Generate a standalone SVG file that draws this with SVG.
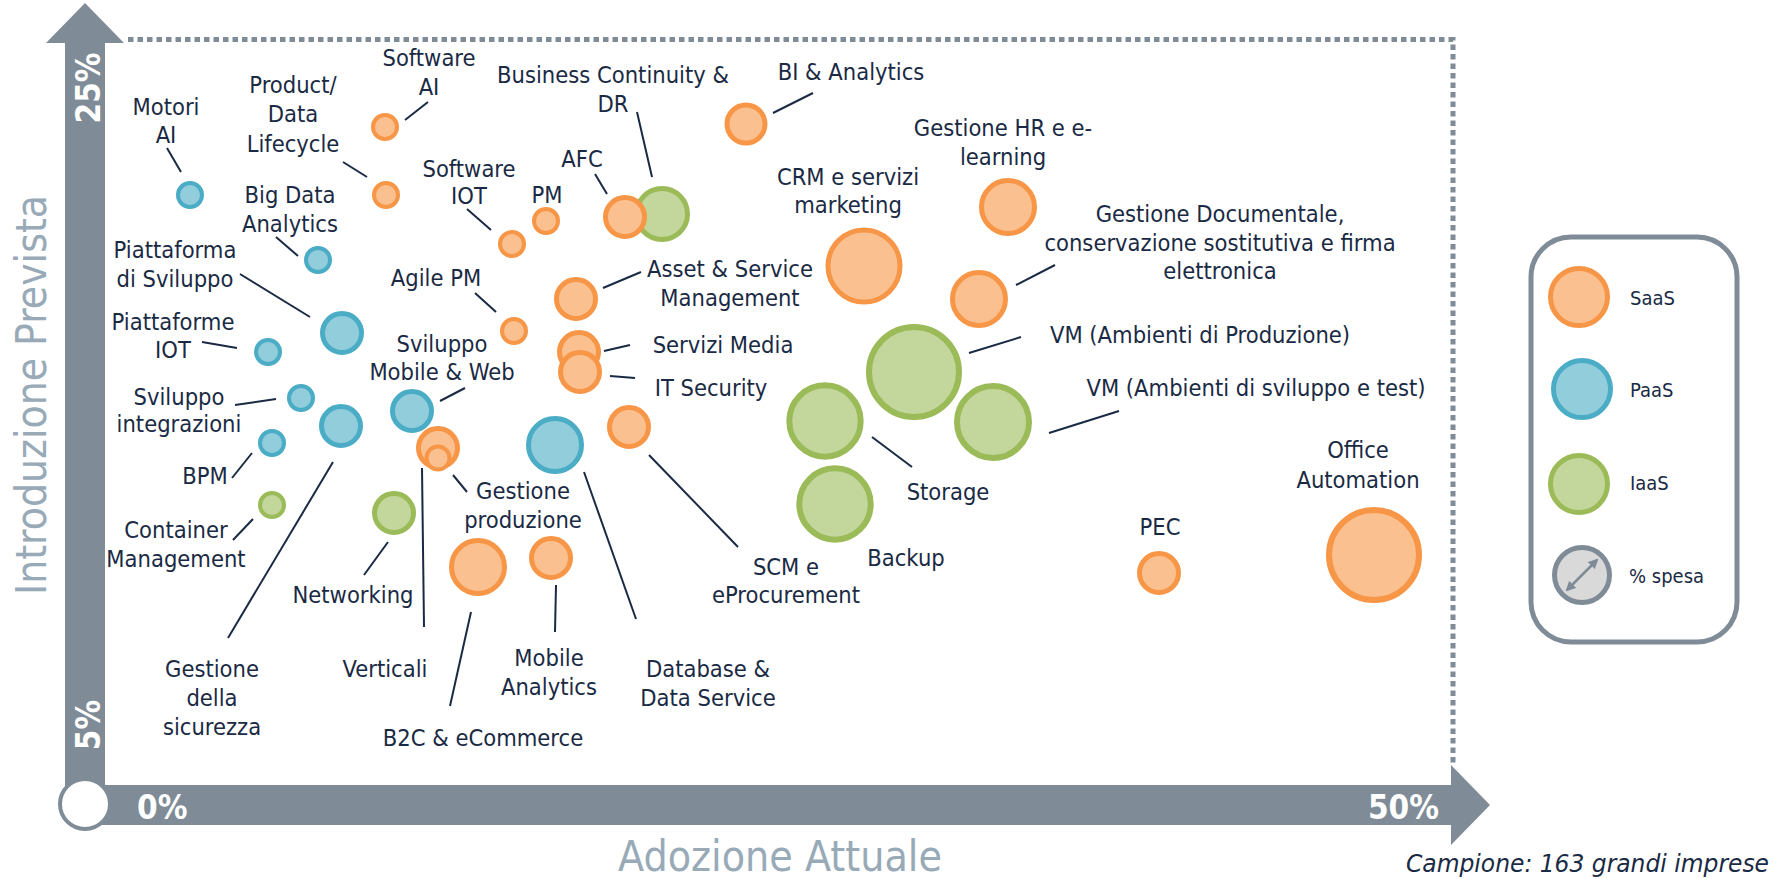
<svg xmlns="http://www.w3.org/2000/svg" width="1784" height="879" viewBox="0 0 1784 879">
<style>
.t{font-family:"DejaVu Sans Condensed","Liberation Sans",sans-serif;font-size:23.5px;fill:#1a2a44;text-anchor:middle}
.lg{font-family:"DejaVu Sans Condensed","Liberation Sans",sans-serif;font-size:20px;fill:#1a2a44}
.ax{font-family:"DejaVu Sans Condensed","Liberation Sans",sans-serif;font-size:33px;font-weight:bold;fill:#ffffff}
.ttl{font-family:"DejaVu Sans Condensed","Liberation Sans",sans-serif;font-size:42px;fill:#98aab7}
.saas{fill:#fac090;stroke:#f79646}
.paas{fill:#92cddc;stroke:#4bacc6}
.iaas{fill:#c3d69b;stroke:#9bbb59}
.s{stroke-width:4}
.m{stroke-width:5}
.l{stroke-width:6}
.conn line{stroke:#1a2a44;stroke-width:2}
</style>
<defs>
<marker id="ah" viewBox="0 0 10 10" refX="8" refY="5" markerWidth="4" markerHeight="4" orient="auto-start-reverse"><path d="M0,0 L10,5 L0,10 z" fill="#7f8c97"/></marker>
</defs>

<g id="axes">
<path d="M128,39.5 H1453 V765" fill="none" stroke="#7f8c97" stroke-width="5" stroke-dasharray="5.5 4"/>
<rect x="65" y="42" width="40" height="762" fill="#7f8c97"/>
<polygon points="85,3 124,43 46,43" fill="#7f8c97"/>
<rect x="85" y="785" width="1367" height="40" fill="#7f8c97"/>
<polygon points="1451,765 1490,805 1451,845" fill="#7f8c97"/>
<circle cx="85" cy="804" r="25" fill="#ffffff" stroke="#7f8c97" stroke-width="4"/>
<text class="ax" x="137" y="819">0%</text>
<text class="ax" x="1439" y="819" text-anchor="end">50%</text>
<text class="ax" transform="translate(100,88) rotate(-90)" text-anchor="middle">25%</text>
<text class="ax" transform="translate(100,725) rotate(-90)" text-anchor="middle">5%</text>
<text class="ttl" transform="translate(46,395) rotate(-90)" text-anchor="middle" textLength="400" lengthAdjust="spacingAndGlyphs">Introduzione Prevista</text>
<text class="ttl" x="618" y="871" textLength="324" lengthAdjust="spacingAndGlyphs">Adozione Attuale</text>
</g>

<g id="connectors" class="conn">
<line x1="167" y1="148" x2="181" y2="172"/>
<line x1="428" y1="102" x2="405" y2="120"/>
<line x1="343" y1="162" x2="367" y2="177"/>
<line x1="276" y1="237" x2="298" y2="256"/>
<line x1="467" y1="209" x2="491" y2="230"/>
<line x1="240" y1="274" x2="310" y2="317"/>
<line x1="202" y1="342" x2="237" y2="348"/>
<line x1="475" y1="293" x2="496" y2="312"/>
<line x1="465" y1="388" x2="440" y2="401"/>
<line x1="235" y1="405" x2="276" y2="399"/>
<line x1="595" y1="174" x2="607" y2="194"/>
<line x1="637" y1="112" x2="652" y2="177"/>
<line x1="813" y1="93" x2="773" y2="113"/>
<line x1="641" y1="272" x2="603" y2="288"/>
<line x1="630" y1="345" x2="604" y2="351"/>
<line x1="635" y1="378" x2="610" y2="376"/>
<line x1="1055" y1="265" x2="1016" y2="285"/>
<line x1="1021" y1="337" x2="969" y2="353"/>
<line x1="1119" y1="411" x2="1049" y2="433"/>
<line x1="872" y1="437" x2="912" y2="467"/>
<line x1="649" y1="455" x2="738" y2="547"/>
<line x1="584" y1="472" x2="636" y2="619"/>
<line x1="232" y1="478" x2="252" y2="453"/>
<line x1="233" y1="540" x2="253" y2="519"/>
<line x1="228" y1="638" x2="333" y2="462"/>
<line x1="364" y1="575" x2="388" y2="542"/>
<line x1="424" y1="627" x2="422" y2="468"/>
<line x1="467" y1="492" x2="453" y2="475"/>
<line x1="471" y1="612" x2="450" y2="706"/>
<line x1="556" y1="585" x2="555" y2="632"/>
</g>

<g id="n-motori-ai"><circle class="paas s" cx="190" cy="195" r="12"/><text class="t" x="166" y="115">Motori</text><text class="t" x="166" y="143">AI</text></g>
<g id="n-software-ai"><circle class="saas s" cx="385" cy="127" r="12"/><text class="t" x="429" y="66">Software</text><text class="t" x="429" y="95">AI</text></g>
<g id="n-product-data"><circle class="saas s" cx="386" cy="195" r="12"/><text class="t" x="293" y="93">Product/</text><text class="t" x="293" y="122">Data</text><text class="t" x="293" y="152">Lifecycle</text></g>
<g id="n-big-data"><circle class="paas s" cx="318" cy="260" r="12"/><text class="t" x="290" y="203">Big Data</text><text class="t" x="290" y="232">Analytics</text></g>
<g id="n-software-iot"><circle class="saas s" cx="512" cy="244" r="12"/><text class="t" x="469" y="177">Software</text><text class="t" x="469" y="204">IOT</text></g>
<g id="n-pm"><circle class="saas s" cx="546" cy="221" r="12"/><text class="t" x="547" y="203">PM</text></g>
<g id="n-piattaforma-sviluppo"><circle class="paas m" cx="342" cy="333" r="19.5"/><text class="t" x="175" y="258">Piattaforma</text><text class="t" x="175" y="287">di Sviluppo</text></g>
<g id="n-piattaforme-iot"><circle class="paas s" cx="268" cy="352" r="12"/><text class="t" x="173" y="330">Piattaforme</text><text class="t" x="173" y="358">IOT</text></g>
<g id="n-agile-pm"><circle class="saas s" cx="514" cy="331" r="12"/><text class="t" x="436" y="286">Agile PM</text></g>
<g id="n-sviluppo-mobile"><circle class="paas m" cx="412" cy="411" r="19.5"/><text class="t" x="442" y="352">Sviluppo</text><text class="t" x="442" y="380">Mobile &amp; Web</text></g>
<g id="n-sviluppo-integrazioni"><circle class="paas s" cx="301" cy="398" r="12"/><text class="t" x="179" y="405">Sviluppo</text><text class="t" x="179" y="432">integrazioni</text></g>
<g id="n-gestione-sicurezza"><circle class="paas m" cx="341" cy="426" r="19.5"/><text class="t" x="212" y="677">Gestione</text><text class="t" x="212" y="706">della</text><text class="t" x="212" y="735">sicurezza</text></g>
<g id="n-bpm"><circle class="paas s" cx="272" cy="443" r="12"/><text class="t" x="205" y="484">BPM</text></g>
<g id="n-container"><circle class="iaas s" cx="272" cy="505" r="12"/><text class="t" x="176" y="538">Container</text><text class="t" x="176" y="567">Management</text></g>
<g id="n-networking"><circle class="iaas m" cx="394" cy="513" r="19.5"/><text class="t" x="353" y="603">Networking</text></g>
<g id="n-verticali"><circle class="saas m" cx="438" cy="448" r="19.5"/><text class="t" x="385" y="677">Verticali</text></g>
<g id="n-gestione-produzione"><circle class="saas s" cx="438" cy="458" r="11.5"/><text class="t" x="523" y="499">Gestione</text><text class="t" x="523" y="528">produzione</text></g>
<g id="n-database"><circle class="paas m" cx="555" cy="445" r="26.5"/><text class="t" x="708" y="677">Database &amp;</text><text class="t" x="708" y="706">Data Service</text></g>
<g id="n-b2c"><circle class="saas m" cx="478" cy="567" r="26.5"/><text class="t" x="483" y="746">B2C &amp; eCommerce</text></g>
<g id="n-mobile-analytics"><circle class="saas m" cx="551" cy="558" r="19.5"/><text class="t" x="549" y="666">Mobile</text><text class="t" x="549" y="695">Analytics</text></g>
<g id="n-bcdr"><circle class="iaas m" cx="662" cy="214" r="25.5"/><text class="t" x="613" y="83">Business Continuity &amp;</text><text class="t" x="613" y="112">DR</text></g>
<g id="n-afc"><circle class="saas m" cx="625" cy="217" r="19.5"/><text class="t" x="582" y="167">AFC</text></g>
<g id="n-asset"><circle class="saas m" cx="576" cy="299" r="19.5"/><text class="t" x="730" y="277">Asset &amp; Service</text><text class="t" x="730" y="306">Management</text></g>
<g id="n-servizi-media"><circle class="saas m" cx="579" cy="352" r="19.5"/><text class="t" x="723" y="353">Servizi Media</text></g>
<g id="n-it-security"><circle class="saas m" cx="580" cy="372" r="19.5"/><text class="t" x="711" y="396">IT Security</text></g>
<g id="n-scm"><circle class="saas m" cx="629" cy="427" r="19.5"/><text class="t" x="786" y="575">SCM e</text><text class="t" x="786" y="603">eProcurement</text></g>
<g id="n-bi"><circle class="saas m" cx="746" cy="124" r="19"/><text class="t" x="851" y="80">BI &amp; Analytics</text></g>
<g id="n-crm"><circle class="saas m" cx="864" cy="266" r="36"/><text class="t" x="848" y="185">CRM e servizi</text><text class="t" x="848" y="213">marketing</text></g>
<g id="n-hr"><circle class="saas m" cx="1008" cy="207" r="26.5"/><text class="t" x="1003" y="136">Gestione HR e e-</text><text class="t" x="1003" y="165">learning</text></g>
<g id="n-documentale"><circle class="saas m" cx="979" cy="299" r="26.5"/><text class="t" x="1220" y="222">Gestione Documentale,</text><text class="t" x="1220" y="251">conservazione sostitutiva e firma</text><text class="t" x="1220" y="279">elettronica</text></g>
<g id="n-vm-prod"><circle class="iaas l" cx="914" cy="372" r="45"/><text class="t" x="1200" y="343">VM (Ambienti di Produzione)</text></g>
<g id="n-storage"><circle class="iaas l" cx="825" cy="421" r="35.7"/><text class="t" x="948" y="500">Storage</text></g>
<g id="n-vm-svil"><circle class="iaas l" cx="993" cy="422" r="36"/><text class="t" x="1256" y="396">VM (Ambienti di sviluppo e test)</text></g>
<g id="n-backup"><circle class="iaas l" cx="835" cy="504" r="35.7"/><text class="t" x="906" y="566">Backup</text></g>
<g id="n-pec"><circle class="saas m" cx="1159" cy="573" r="19.5"/><text class="t" x="1160" y="535">PEC</text></g>
<g id="n-office"><circle class="saas l" cx="1374" cy="555" r="45"/><text class="t" x="1358" y="458">Office</text><text class="t" x="1358" y="488">Automation</text></g>

<g id="legend">
<rect x="1531" y="237" width="206" height="405" rx="40" fill="#ffffff" stroke="#7f8c97" stroke-width="5"/>
<circle class="saas m" cx="1579" cy="297" r="28.5"/><text class="lg" x="1630" y="305">SaaS</text>
<circle class="paas m" cx="1582" cy="389" r="28.5"/><text class="lg" x="1630" y="397">PaaS</text>
<circle class="iaas m" cx="1579" cy="484" r="28.5"/><text class="lg" x="1630" y="490">IaaS</text>
<circle cx="1582" cy="575" r="27.5" fill="#d9d9d9" stroke="#7f8c97" stroke-width="5"/>
<line x1="1567" y1="590" x2="1597" y2="560" stroke="#7f8c97" stroke-width="2.5" marker-start="url(#ah)" marker-end="url(#ah)"/>
<text class="lg" x="1629" y="583">% spesa</text>
</g>

<text id="campione" x="1769" y="872" text-anchor="end" textLength="363" lengthAdjust="spacingAndGlyphs" style="font-family:'DejaVu Sans Condensed','Liberation Sans',sans-serif;font-size:24px;font-style:italic;fill:#1a2a44">Campione: 163 grandi imprese</text>
</svg>
